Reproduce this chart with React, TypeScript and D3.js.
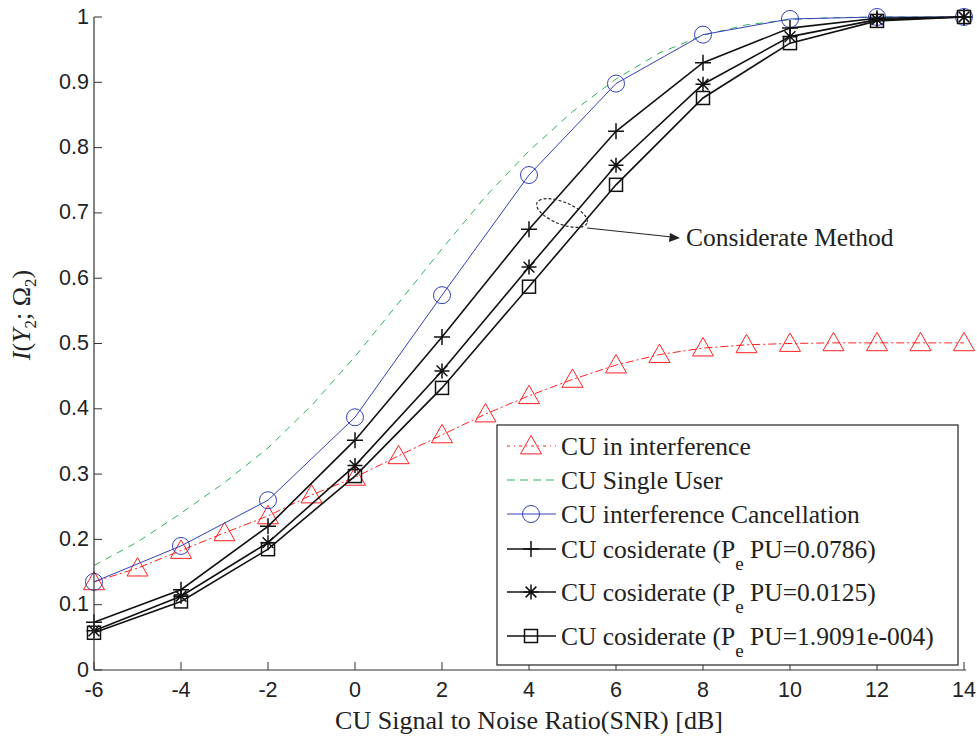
import { scaleLinear, line, curveLinear } from "d3"

// SNR in dB
const snrFine = [-6, -5, -4, -3, -2, -1, 0, 1, 2, 3, 4, 5, 6, 7, 8, 9, 10, 11, 12, 13, 14]
const snrEven = [-6, -4, -2, 0, 2, 4, 6, 8, 10, 12, 14]

const interference = [0.135, 0.156, 0.183, 0.21, 0.236, 0.268, 0.295, 0.328, 0.36, 0.392, 0.42, 0.445, 0.467, 0.483, 0.493, 0.498, 0.5, 0.501, 0.501, 0.501, 0.501]
const singleUser = [0.16, 0.196, 0.24, 0.287, 0.34, 0.405, 0.48, 0.562, 0.645, 0.725, 0.795, 0.855, 0.905, 0.945, 0.972, 0.988, 0.996, 0.999, 1, 1, 1]
const cancellation = [0.135, 0.19, 0.26, 0.387, 0.574, 0.758, 0.898, 0.973, 0.997, 1, 1]
const considerate1 = [0.073, 0.123, 0.22, 0.352, 0.51, 0.675, 0.825, 0.93, 0.983, 0.998, 1]
const considerate2 = [0.06, 0.113, 0.195, 0.313, 0.458, 0.617, 0.773, 0.897, 0.97, 0.996, 1]
const considerate3 = [0.057, 0.105, 0.185, 0.297, 0.432, 0.587, 0.743, 0.876, 0.96, 0.994, 1]

const xTicks = [-6, -4, -2, 0, 2, 4, 6, 8, 10, 12, 14]
const yTicks = [0, 0.1, 0.2, 0.3, 0.4, 0.5, 0.6, 0.7, 0.8, 0.9, 1]

const W = 977
const H = 740
const left = 94, right = 964, top = 17, bottom = 670

const sans = "'Liberation Sans', Arial, sans-serif"
const serif = "'Liberation Serif', 'Times New Roman', serif"

function Marker({ kind, x, y, color }) {
  if (kind === "tri") {
    const s = 10.5
    return <path d={`M${x},${y - s} L${x + s},${y + s * 0.75} L${x - s},${y + s * 0.75} Z`} fill="none" stroke={color} strokeWidth={1} />
  }
  if (kind === "circle") return <circle cx={x} cy={y} r={8.5} fill="none" stroke={color} strokeWidth={1} />
  if (kind === "plus") {
    const s = 8
    return <path d={`M${x - s},${y} H${x + s} M${x},${y - s} V${y + s}`} stroke={color} strokeWidth={1.5} />
  }
  if (kind === "star") {
    const s = 7.5, d = s * 0.72
    return <path d={`M${x - s},${y} H${x + s} M${x},${y - s} V${y + s} M${x - d},${y - d} L${x + d},${y + d} M${x - d},${y + d} L${x + d},${y - d}`} stroke={color} strokeWidth={1.5} />
  }
  if (kind === "square") {
    const s = 6.5
    return <rect x={x - s} y={y - s} width={2 * s} height={2 * s} fill="none" stroke={color} strokeWidth={1.5} />
  }
  return null
}

export default function App() {
  const x = scaleLinear().domain([-6, 14]).range([left, right])
  const y = scaleLinear().domain([0, 1]).range([bottom, top])
  const gen = line<[number, number]>().x(d => x(d[0])).y(d => y(d[1])).curve(curveLinear)

  const series = [
    { name: "CU in interference", xs: snrFine, ys: interference, color: "#ff2020", dash: "8,3,2,3", marker: "tri", width: 1 },
    { name: "CU Single User", xs: snrFine, ys: singleUser, color: "#2db35a", dash: "7,6", marker: null, width: 1 },
    { name: "CU interference Cancellation", xs: snrEven, ys: cancellation, color: "#3340b8", dash: null, marker: "circle", width: 1 },
    { name: "CU cosiderate (P", sub: "e", tail: " PU=0.0786)", xs: snrEven, ys: considerate1, color: "#111", dash: null, marker: "plus", width: 1.6 },
    { name: "CU cosiderate (P", sub: "e", tail: " PU=0.0125)", xs: snrEven, ys: considerate2, color: "#111", dash: null, marker: "star", width: 1.6 },
    { name: "CU cosiderate (P", sub: "e", tail: " PU=1.9091e-004)", xs: snrEven, ys: considerate3, color: "#111", dash: null, marker: "square", width: 1.6 },
  ]

  const legendRows = [446, 480, 514, 549, 592, 636]

  return (
    <svg width={W} height={H} style={{ position: "absolute", left: 0, top: 0, background: "#fff" }}>
      {/* series */}
      {series.map((s, i) => (
        <g key={i}>
          <path d={gen(s.xs.map((v, j) => [v, s.ys[j]]))} fill="none" stroke={s.color} strokeWidth={s.width} strokeDasharray={s.dash ?? undefined} />
          {s.marker && s.xs.map((v, j) => <Marker key={j} kind={s.marker} x={x(v)} y={y(s.ys[j])} color={s.color} />)}
        </g>
      ))}

      {/* axes */}
      <line x1={left} x2={left} y1={top} y2={bottom} stroke="#333" strokeWidth={1.2} />
      <line x1={left} x2={right + 2} y1={bottom} y2={bottom} stroke="#333" strokeWidth={1.2} />
      {yTicks.map(t => (
        <g key={t}>
          <line x1={left} x2={left + 8} y1={y(t)} y2={y(t)} stroke="#333" />
          <text x={left - 5} y={y(t) - 1} dy="0.35em" textAnchor="end" fontFamily={sans} fontSize={21.5} fill="#222">{t}</text>
        </g>
      ))}
      {xTicks.map(t => (
        <g key={t}>
          <line x1={x(t)} x2={x(t)} y1={bottom} y2={bottom - 8} stroke="#333" />
          <text x={x(t)} y={bottom + 27} textAnchor="middle" fontFamily={sans} fontSize={21.5} fill="#222">{t}</text>
        </g>
      ))}

      {/* axis titles */}
      <text x={529} y={729} textAnchor="middle" fontFamily={serif} fontSize={26} fill="#222">CU Signal to Noise Ratio(SNR) [dB]</text>
      <text transform="translate(30,315) rotate(-90)" textAnchor="middle" fontFamily={serif} fontSize={26} fill="#222">
        <tspan fontStyle="italic">I</tspan>(<tspan fontStyle="italic">Y</tspan><tspan fontSize={17} dy={6}>2</tspan><tspan dy={-6}>; Ω</tspan><tspan fontSize={17} dy={6}>2</tspan><tspan dy={-6}>)</tspan>
      </text>

      {/* annotation */}
      <ellipse cx={562} cy={213} rx={27} ry={11} transform="rotate(22 562 213)" fill="none" stroke="#222" strokeWidth={1.2} strokeDasharray="3,2" />
      <line x1={587} y1={228} x2={672} y2={237} stroke="#222" strokeWidth={1} />
      <path d="M680,238 L669,242 L670,233 Z" fill="#222" />
      <text x={686} y={246} fontFamily={serif} fontSize={25.5} fill="#222">Considerate Method</text>

      {/* legend */}
      <rect x={497} y={425} width={461} height={240} fill="#fff" stroke="#222" strokeWidth={1.2} />
      {series.map((s, i) => {
        const ly = legendRows[i]
        return (
          <g key={i}>
            <line x1={507} x2={556} y1={ly} y2={ly} stroke={s.color} strokeWidth={s.width} strokeDasharray={s.dash ? (s.marker === "tri" ? "3,4,1,4" : "8,5") : undefined} />
            {s.marker && <Marker kind={s.marker} x={531} y={ly} color={s.color} />}
            <text x={561} y={ly + 9} fontFamily={serif} fontSize={25.5} fill="#222">
              {s.name}
              {s.sub && <tspan fontSize={19} dy={12}>{s.sub}</tspan>}
              {s.tail && <tspan dy={-12}>{s.tail}</tspan>}
            </text>
          </g>
        )
      })}
    </svg>
  )
}
